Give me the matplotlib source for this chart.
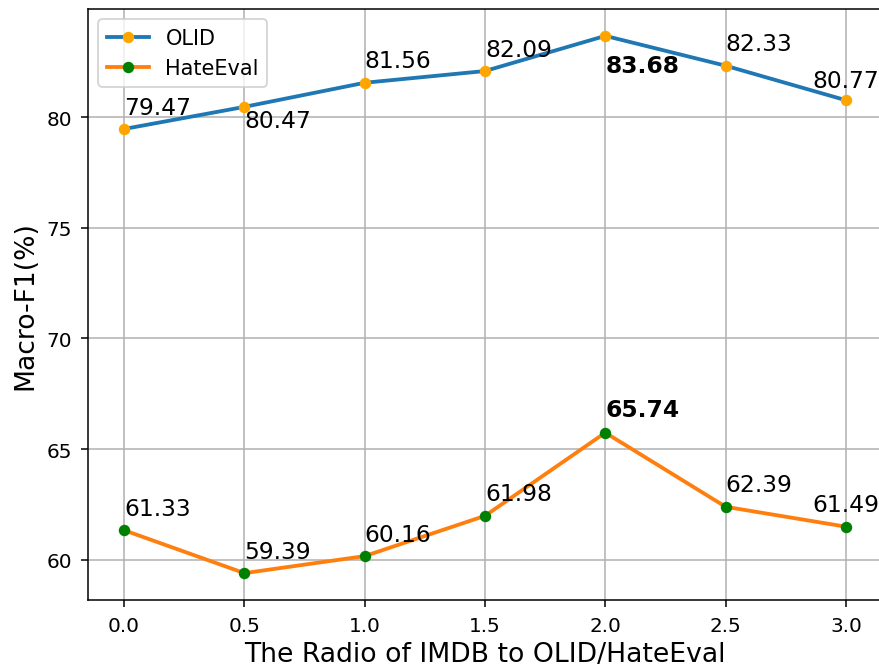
import matplotlib
matplotlib.use("Agg")
import matplotlib.pyplot as plt

ratios = [0.0, 0.5, 1.0, 1.5, 2.0, 2.5, 3.0]
olid = [79.47, 80.47, 81.56, 82.09, 83.68, 82.33, 80.77]
hateeval = [61.33, 59.39, 60.16, 61.98, 65.74, 62.39, 61.49]

# label placement: vertical offset (data units, negative = below the point)
olid_offsets = [0.7, -0.9, 0.7, 0.7, -1.65, 0.7, 0.6]
hate_offsets = [0.7, 0.7, 0.7, 0.7, 0.75, 0.7, 0.7]
# horizontal shift, last labels pulled left so they stay in the figure
x_shifts = [0, 0, 0, 0, 0, 0, -0.14]
best = 4  # index of the bold labels

dpi = 137
fig = plt.figure(figsize=(879 / dpi, 670 / dpi), dpi=dpi)
ax = fig.add_axes([88 / 879, 1 - 601 / 670, 794 / 879, 591 / 670])

ax.plot(ratios, olid, linewidth=2, marker='o', markersize=5,
        markerfacecolor='orange', markeredgecolor='orange', label='OLID')
ax.plot(ratios, hateeval, linewidth=2, marker='o', markersize=5,
        markerfacecolor='green', markeredgecolor='green', label='HateEval')

for i in range(len(ratios)):
    weight = 'bold' if i == best else 'normal'
    ax.text(ratios[i] + x_shifts[i], olid[i] + olid_offsets[i],
            '%.2f' % olid[i], fontsize=12.3, fontweight=weight)
    ax.text(ratios[i] + x_shifts[i], hateeval[i] + hate_offsets[i],
            '%.2f' % hateeval[i], fontsize=12.3, fontweight=weight)

ax.set_xlabel('The Radio of IMDB to OLID/HateEval', fontsize=14, labelpad=3)
ax.set_ylabel('Macro-F1(%)', fontsize=14)
ax.set_xticks(ratios)
ax.tick_params(labelsize=10.5, pad=5)
ax.grid(True)
ax.legend(loc='upper left', fontsize=11)

fig.savefig('out.png', dpi=dpi)
